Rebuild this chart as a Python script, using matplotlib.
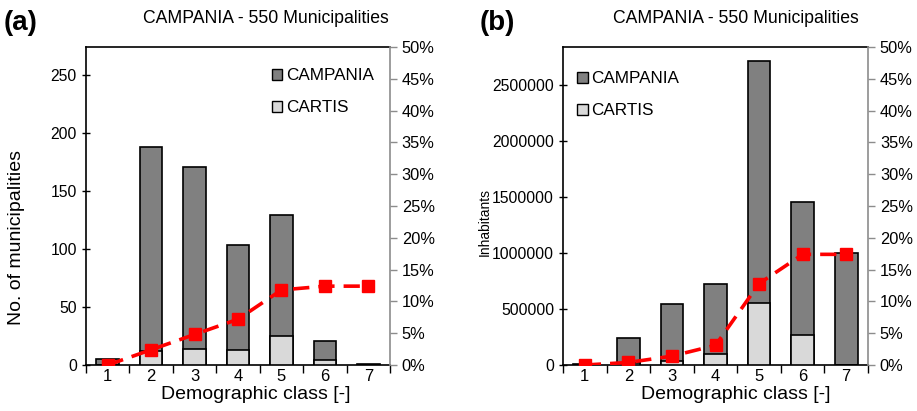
import matplotlib
matplotlib.use('Agg')
import matplotlib.pyplot as plt
import numpy as np
from matplotlib.patches import Rectangle
from matplotlib.ticker import FixedLocator, PercentFormatter

plt.rcParams['font.family'] = ['Liberation Sans', 'DejaVu Sans']

# Demographic classes
classes = ['1', '2', '3', '4', '5', '6', '7']

# (a) number of municipalities
muni_campania = [5, 188, 171, 103, 129, 21, 1]
muni_cartis = [0, 12, 14, 13, 25, 4, 0]
muni_pct = [0.0, 2.4, 4.8, 7.2, 11.8, 12.4, 12.4]

# (b) inhabitants
inh_campania = [10000, 245000, 545000, 720000, 2715000, 1453000, 1000000]
inh_cartis = [0, 15000, 40000, 95000, 556000, 265000, 0]
inh_pct = [0.0, 0.4, 1.4, 3.1, 12.8, 17.4, 17.4]

C_CAMP = '#808080'
C_CART = '#d9d9d9'
SPINE_GREY = '#8c8c8c'


def draw_panel(ax, campania, cartis, pct, ymax, yticks, ylabel, ylabel_size,
               ylabel_xy, xlabel_x, legend_anchor):
    x = np.arange(len(classes))
    ax.bar(x, campania, 0.52, color=C_CAMP, edgecolor='black', linewidth=1.2,
           zorder=2)
    ax.bar(x, cartis, 0.52, color=C_CART, edgecolor='black', linewidth=1.2,
           zorder=3)
    ax.set_xlim(-0.5, len(classes) - 0.5)
    ax.set_ylim(0, ymax)
    ax.set_yticks(yticks)
    ax.set_yticklabels([f'{v:d}' for v in yticks])
    ax.set_xticks(x)
    ax.set_xticklabels(classes)
    ax.xaxis.set_minor_locator(FixedLocator(np.arange(-0.5, len(classes), 1.0)))
    ax.tick_params(axis='x', which='major', length=0, labelsize=12, pad=3)
    ax.tick_params(axis='x', which='minor', length=6, width=1, direction='out')
    ax.tick_params(axis='y', length=6, width=1, direction='inout',
                   labelsize=11.3)
    for side in ['left', 'top', 'bottom']:
        ax.spines[side].set_color('black')
        ax.spines[side].set_linewidth(1.2)
    ax.spines['right'].set_visible(False)
    ax.set_xlabel('Demographic class [-]', fontsize=14)
    ax.xaxis.set_label_coords(xlabel_x, -0.066)
    ax.set_ylabel(ylabel, fontsize=ylabel_size)
    ax.yaxis.set_label_coords(*ylabel_xy)

    handles = [Rectangle((0, 0), 1, 1, facecolor=C_CAMP, edgecolor='black', lw=1),
               Rectangle((0, 0), 1, 1, facecolor=C_CART, edgecolor='black', lw=1)]
    ax.legend(handles, ['CAMPANIA', 'CARTIS'], loc='upper left',
              bbox_to_anchor=legend_anchor, frameon=False, fontsize=12.3,
              handlelength=0.6, handleheight=0.6, handletextpad=0.2,
              labelspacing=1.0, borderaxespad=0)

    ax2 = ax.twinx()
    ax2.plot(x, pct, color='red', lw=2.6, dashes=(4.5, 2.5), marker='s',
             markersize=9, markerfacecolor='red', markeredgecolor='red',
             zorder=5)
    ax2.set_ylim(0, 50)
    ax2.set_yticks(np.arange(0, 51, 5))
    ax2.yaxis.set_major_formatter(PercentFormatter(decimals=0))
    ax2.tick_params(axis='y', length=5, width=1, direction='out',
                    color=SPINE_GREY, labelsize=11.8)
    ax2.spines['right'].set_color(SPINE_GREY)
    ax2.spines['right'].set_linewidth(1.2)
    for side in ['left', 'top', 'bottom']:
        ax2.spines[side].set_visible(False)
    return ax2


fig = plt.figure(figsize=(9.17, 4.11), dpi=100)
ax_a = fig.add_axes([0.0938, 0.1119, 0.3315, 0.7737])
ax_b = fig.add_axes([0.614, 0.1119, 0.3326, 0.7737])

draw_panel(ax_a, muni_campania, muni_cartis, muni_pct, 274,
           list(range(0, 251, 50)), 'No. of municipalities', 14,
           (-0.2, 0.4), 0.56, (0.59, 0.955))
draw_panel(ax_b, inh_campania, inh_cartis, inh_pct, 2840000,
           list(range(0, 2500001, 500000)), 'Inhabitants', 10,
           (-0.235, 0.45), 0.565, (0.025, 0.945))

for xc in (0.290, 0.803):
    fig.text(xc, 0.956, 'CAMPANIA - 550 Municipalities', fontsize=12.7,
             ha='center', va='center')

fig.text(0.004, 0.945, '(a)', fontsize=20, fontweight='bold', va='center')
fig.text(0.523, 0.945, '(b)', fontsize=20, fontweight='bold', va='center')

fig.savefig('out.png', dpi=100)
